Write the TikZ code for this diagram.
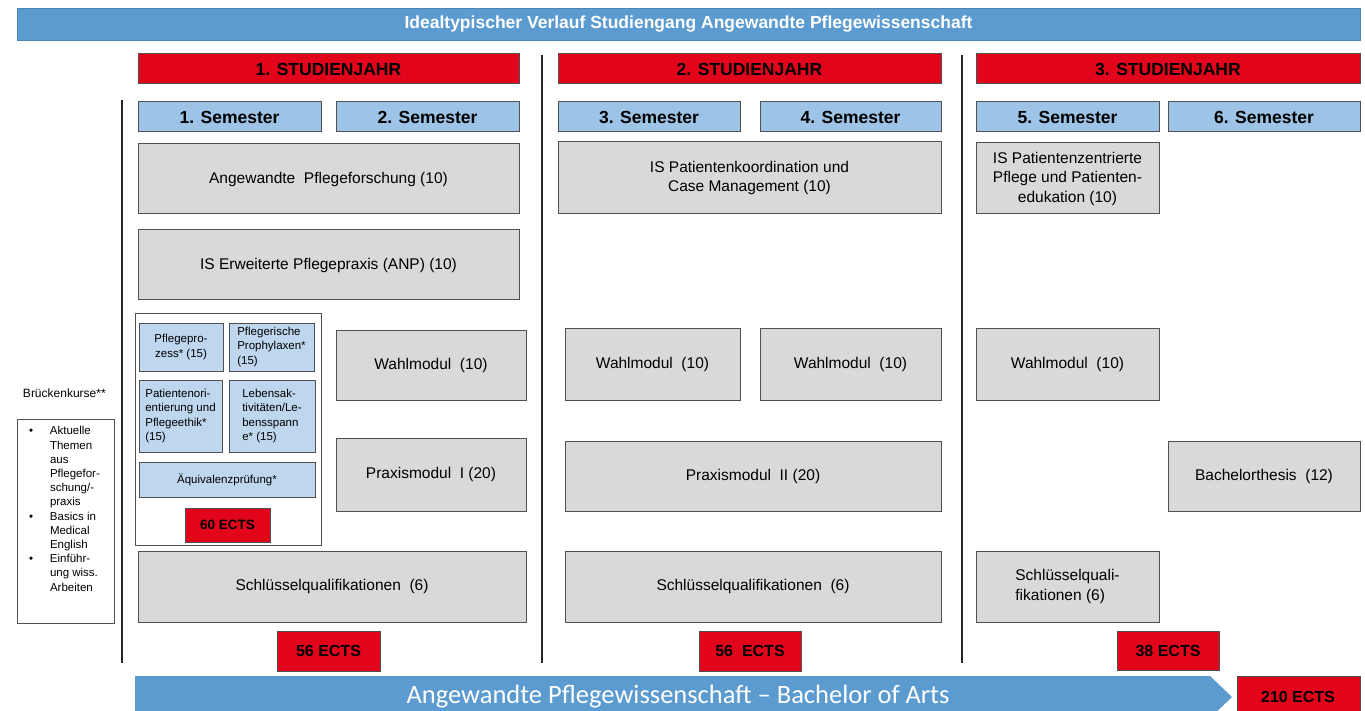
\documentclass[tikz,border=0pt]{standalone}
\usepackage{fontspec}
\setmainfont{Liberation Sans}
\newfontfamily\calibri{Carlito}
\definecolor{tblue}{RGB}{91,155,208}
\definecolor{ured}{RGB}{226,4,27}
\definecolor{semblue}{RGB}{157,195,230}
\definecolor{smallblue}{RGB}{190,215,238}
\definecolor{modgray}{RGB}{217,217,217}
\definecolor{boxline}{RGB}{80,80,80}
\newcommand\bx[7]{\node[#2,minimum width={(#5-#3)*1pt},minimum height={(#6-#4)*1pt}] (#1) at ({(#3+#5)/2},{(#4+#6)/2}) {#7};}
\begin{document}
\begin{tikzpicture}[x=1pt,y=-1pt,
 every node/.style={inner sep=0pt, outer sep=0pt},
 base/.style={draw=boxline, line width=1pt},
 titlebar/.style={draw=tblue!85!black, line width=0.8pt, fill=tblue, text=white, font=\bfseries\fontsize{17.5}{20}\selectfont},
 year/.style={base, fill=ured, font=\bfseries\fontsize{17.5}{20}\selectfont},
 sem/.style={base, fill=semblue, font=\bfseries\fontsize{17.5}{20}\selectfont},
 mod/.style={base, fill=modgray, font=\fontsize{15.5}{19.5}\selectfont, align=center},
 modl/.style={base, fill=modgray, font=\fontsize{15.5}{19.5}\selectfont, align=left},
 small/.style={base, fill=smallblue, font=\fontsize{11.5}{14.5}\selectfont, align=center},
 smalll/.style={base, fill=smallblue, font=\fontsize{11.5}{14.5}\selectfont, align=left},
 ects/.style={base, fill=ured, font=\bfseries\fontsize{16}{19}\selectfont},
 ectss/.style={base, fill=ured, font=\bfseries\fontsize{13.5}{16}\selectfont},
 framebox/.style={draw=boxline, line width=1pt, fill=white},
 divider/.style={line width=1.6pt, draw=black!85}]
\useasboundingbox (0,0) rectangle (1365,711);
\clip (0,0) rectangle (1365,711);
% title
\bx{title}{titlebar}{17}{8}{1360}{40}{Idealtypischer Verlauf Studiengang Angewandte Pflegewissenschaft}
% dividers
\coordinate (d1a) at (122,100); \coordinate (d1b) at (122,663);
\coordinate (d2a) at (542,55); \coordinate (d2b) at (542,663);
\coordinate (d3a) at (962,55); \coordinate (d3b) at (962,663);
\draw[divider] (d1a) -- (d1b);
\draw[divider] (d2a) -- (d2b);
\draw[divider] (d3a) -- (d3b);
% years
\bx{y1}{year}{138}{54}{519}{84}{1. STUDIENJAHR}
\bx{y2}{year}{558}{54}{941}{84}{2. STUDIENJAHR}
\bx{y3}{year}{976}{54}{1360}{84}{3. STUDIENJAHR}
% semesters
\bx{s1}{sem}{138}{102}{321}{132}{1. Semester}
\bx{s2}{sem}{336}{102}{519}{132}{2. Semester}
\bx{s3}{sem}{558}{102}{740}{132}{3. Semester}
\bx{s4}{sem}{760}{102}{941}{132}{4. Semester}
\bx{s5}{sem}{976}{102}{1159}{132}{5. Semester}
\bx{s6}{sem}{1168}{102}{1360}{132}{6. Semester}
% modules
\bx{apf}{mod}{138}{144}{519}{214}{Angewandte\ \ Pflegeforschung (10)}
\bx{anp}{mod}{138}{230}{519}{300}{IS Erweiterte Pflegepraxis (ANP) (10)}
\bx{pkc}{mod}{558}{142}{941}{214}{IS Patientenkoordination und\\Case Management (10)}
\bx{pzp}{mod}{976}{143}{1159}{214}{IS Patientenzentrierte\\Pflege und Patienten-\\edukation (10)}
% bridge container
\bx{cont}{framebox}{135}{313}{321}{545}{}
\bx{pp}{small}{139}{323}{223}{371}{Pflegepro-\\zess* (15)}
\bx{ppx}{smalll}{229}{323}{314}{371}{Pflegerische\\Prophylaxen*\\(15)}
\bx{pop}{smalll}{139}{380}{222}{452}{Patientenori-\\entierung und\\Pflegeethik*\\(15)}
\bx{lal}{smalll}{229}{380}{315}{452}{Lebensak-\\tivitäten/Le-\\bensspann\\e* (15)}
\bx{aeq}{small}{139}{462}{315}{497}{Äquivalenzprüfung*}
\bx{e60}{ectss}{185}{508}{270}{542}{60 ECTS}
% wahl / praxis
\bx{w2}{mod}{336}{330}{526}{400}{Wahlmodul\ \ (10)}
\bx{w3}{mod}{565}{328}{740}{400}{Wahlmodul\ \ (10)}
\bx{w4}{mod}{760}{328}{941}{400}{Wahlmodul\ \ (10)}
\bx{w5}{mod}{976}{328}{1159}{400}{Wahlmodul\ \ (10)}
\bx{pm1}{mod}{336}{438}{526}{511}{Praxismodul\ \ I (20)}
\bx{pm2}{mod}{565}{441}{941}{511}{Praxismodul\ \ II (20)}
\bx{bt}{mod}{1168}{441}{1360}{511}{Bachelorthesis\ \ (12)}
\bx{sq1}{mod}{138}{551}{526}{622}{Schlüsselqualifikationen\ \ (6)}
\bx{sq2}{mod}{565}{551}{941}{622}{Schlüsselqualifikationen\ \ (6)}
\bx{sq3}{modl}{976}{551}{1159}{622}{Schlüsselquali-\\fikationen (6)}
% ects
\bx{e1}{ects}{277}{631}{380}{671}{56 ECTS}
\bx{e2}{ects}{699}{631}{801}{671}{56\ \ ECTS}
\bx{e3}{ects}{1117}{631}{1219}{670}{38 ECTS}
% bottom arrow
\fill[tblue] (135,676) -- (1210,676) -- (1232,697) -- (1210,718) -- (135,718) -- cycle;
\node[text=white, font=\calibri\fontsize{26.5}{30}\selectfont] (ba) at (678,697) {Angewandte Pflegewissenschaft – Bachelor of Arts};
\bx{e210}{ects}{1237}{676}{1360}{718}{}
\node[font=\bfseries\fontsize{16}{19}\selectfont] (t210) at (1298,697) {210 ECTS};
% Brückenkurse
\node[anchor=west, font=\fontsize{12}{14}\selectfont] (bkt) at (23,393) {Brückenkurse**};
\bx{bkbox}{framebox}{17}{419}{114}{623}{}
\node[anchor=north west, font=\fontsize{11.5}{14.2}\selectfont] (bklist) at (29,425) {%
\renewcommand{\arraystretch}{1}%
\begin{tabular}{@{}p{21pt}@{}l@{}}
\textbullet & Aktuelle\\
 & Themen\\
 & aus\\
 & Pflegefor-\\
 & schung/-\\
 & praxis\\
\textbullet & Basics in\\
 & Medical\\
 & English\\
\textbullet & Einführ-\\
 & ung wiss.\\
 & Arbeiten
\end{tabular}};
\end{tikzpicture}
\end{document}
